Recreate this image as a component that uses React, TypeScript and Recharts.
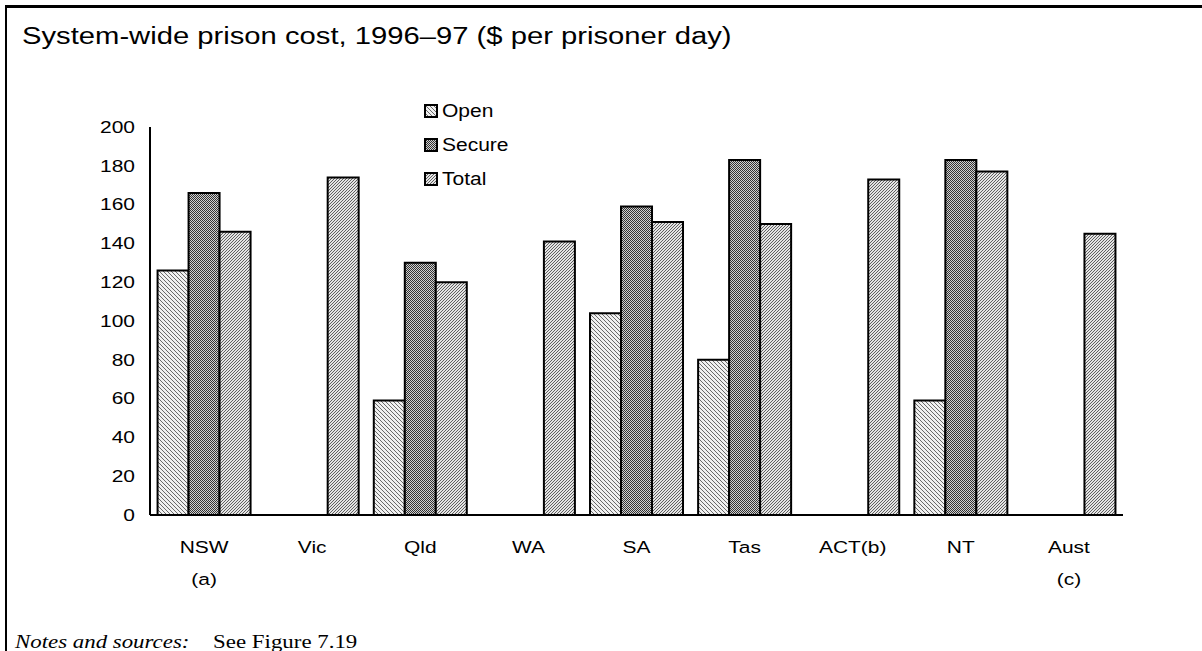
import { BarChart, Bar, XAxis, YAxis } from 'recharts';

const states = ['NSW', 'Vic', 'Qld', 'WA', 'SA', 'Tas', 'ACT(b)', 'NT', 'Aust'];
const notes = ['(a)', '', '', '', '', '', '', '', '(c)'];
const openCost = [126, null, 59, null, 104, 80, null, 59, null];
const secureCost = [166, null, 130, null, 159, 183, null, 183, null];
const totalCost = [146, 174, 120, 141, 151, 150, 173, 177, 145];
const yTicks = [0, 20, 40, 60, 80, 100, 120, 140, 160, 180, 200];

const data = states.map((s, i) => ({
  state: s,
  note: notes[i],
  open: openCost[i],
  secure: secureCost[i],
  total: totalCost[i],
}));

const font = 'Arial, "Liberation Sans", sans-serif';
// the reference picture is stretched sideways, so text is widened to match
const stretch = 1.27;

const series = [
  { key: 'open', label: 'Open', fill: 'url(#patOpen)' },
  { key: 'secure', label: 'Secure', fill: 'url(#patSecure)' },
  { key: 'total', label: 'Total', fill: 'url(#patTotal)' },
];

const CategoryTick = (props: any) => {
  const { x, y, payload, index } = props;
  const note = notes[index] ?? '';
  return (
    <g transform={`translate(${x},${y}) scale(${stretch},1)`}>
      <text x={0} y={0} textAnchor="middle" fontFamily={font} fontSize={16.5} fill="#000">
        <tspan x={0} dy={30}>{payload.value}</tspan>
        {note && <tspan x={0} dy={32}>{note}</tspan>}
      </text>
    </g>
  );
};

const ValueTick = (props: any) => {
  const { x, y, payload } = props;
  return (
    <text
      transform={`translate(${x},${y}) scale(${stretch},1)`}
      x={0}
      y={0}
      dy="0.355em"
      textAnchor="end"
      fontFamily={font}
      fontSize={16.5}
      fill="#000"
    >
      {payload.value}
    </text>
  );
};

const LegendBox = () => (
  <div style={{ position: 'absolute', left: 424, top: 94, fontFamily: font, fontSize: 17.5, color: '#000' }}>
    {series.map((s) => (
      <div key={s.key} style={{ display: 'flex', alignItems: 'center', height: 34 }}>
        <svg width={14} height={14} style={{ marginRight: 4 }}>
          <rect x={1} y={1} width={12} height={12} fill={s.fill} stroke="#000" strokeWidth={2} />
        </svg>
        <span style={{ display: 'inline-block', transform: 'scaleX(1.2)', transformOrigin: 'left center' }}>{s.label}</span>
      </div>
    ))}
  </div>
);

export default function App() {
  return (
    <div style={{ position: 'absolute', left: 0, top: 0, width: 1202, height: 651, background: '#fff', overflow: 'hidden' }}>
      <div style={{ position: 'absolute', left: 5, top: 5, right: 0, height: 3, background: '#000' }} />
      <div style={{ position: 'absolute', left: 5, top: 5, width: 2, bottom: 0, background: '#000' }} />
      <div
        style={{
          position: 'absolute',
          left: 22,
          top: 23,
          fontFamily: font,
          fontSize: 23,
          color: '#000',
          whiteSpace: 'nowrap',
          transform: `scaleX(${stretch})`,
          transformOrigin: 'left top',
        }}
      >
        System-wide prison cost, 1996–97 ($ per prisoner day)
      </div>
      <div style={{ position: 'absolute', left: 0, top: 0 }}>
        <BarChart
          width={1202}
          height={651}
          data={data}
          margin={{ top: 127, left: 90, right: 79, bottom: 76 }}
          barCategoryGap="7%"
          barGap={0}
        >
          <defs>
            <pattern id="patOpen" width={4} height={4} patternUnits="userSpaceOnUse">
              <rect width={4} height={4} fill="#f0f0f0" />
              <path d="M-1,-1 L5,5 M-1,3 L1,5 M3,-1 L5,1" stroke="#6a6a6a" strokeWidth={1} />
            </pattern>
            <pattern id="patSecure" width={2} height={2} patternUnits="userSpaceOnUse">
              <rect width={2} height={2} fill="#d0d0d0" />
              <rect x={0} y={0} width={1} height={1} fill="#333" />
              <rect x={1} y={1} width={1} height={1} fill="#333" />
            </pattern>
            <pattern id="patTotal" width={3} height={3} patternUnits="userSpaceOnUse">
              <rect width={3} height={3} fill="#e4e4e4" />
              <path d="M-1,4 L4,-1 M-1,1 L1,-1 M2,4 L4,2" stroke="#606060" strokeWidth={1} />
            </pattern>
          </defs>
          <XAxis
            dataKey="state"
            axisLine={{ stroke: '#000', strokeWidth: 2 }}
            tickLine={false}
            height={60}
            interval={0}
            tick={<CategoryTick />}
          />
          <YAxis
            domain={[0, 200]}
            ticks={yTicks}
            width={60}
            axisLine={{ stroke: '#000', strokeWidth: 2 }}
            tickLine={false}
            tickMargin={9}
            tick={<ValueTick />}
          />
          {series.map((s) => (
            <Bar
              key={s.key}
              dataKey={s.key}
              name={s.label}
              fill={s.fill}
              stroke="#000"
              strokeWidth={2}
              isAnimationActive={false}
            />
          ))}
        </BarChart>
      </div>
      <LegendBox />
      <div
        style={{
          position: 'absolute',
          left: 15,
          top: 632,
          fontFamily: '"Times New Roman", "Liberation Serif", serif',
          fontSize: 18,
          color: '#000',
          whiteSpace: 'nowrap',
          transform: `scaleX(${stretch})`,
          transformOrigin: 'left top',
        }}
      >
        <i>Notes and sources:</i>
        <span style={{ position: 'absolute', left: 156 }}>See Figure 7.19</span>
      </div>
    </div>
  );
}
